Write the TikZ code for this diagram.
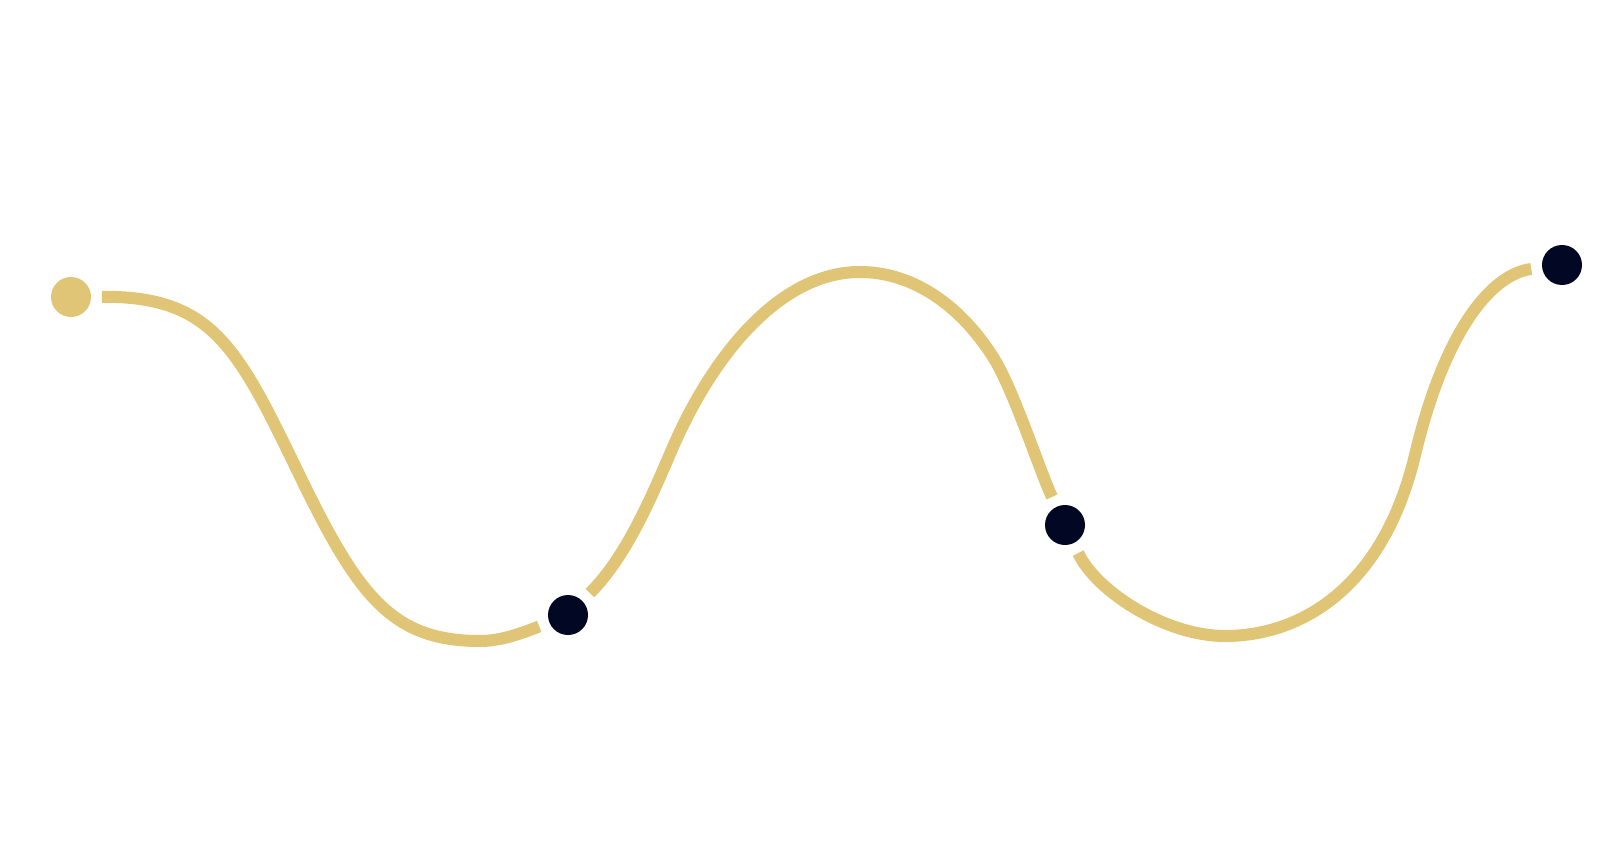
\documentclass[tikz,border=0pt]{standalone}
\definecolor{gold}{RGB}{225,197,118}
\definecolor{navy}{RGB}{2,8,35}
\begin{document}
\begin{tikzpicture}[x=1pt,y=-1pt,
  dotnode/.style={circle, inner sep=0pt, minimum size=40pt, outer sep=11pt, fill=navy},
  golddot/.style={dotnode, fill=gold},
  wave/.style={draw=gold, line width=12pt, line cap=butt}]
\fill[white] (0,0) rectangle (1600,850);
\useasboundingbox (0,0) rectangle (1600,850);
\node[golddot] (d1) at (71,297) {};
\node[dotnode] (d2) at (568,615) {};
\node[dotnode] (d3) at (1065,525) {};
\node[dotnode] (d4) at (1562,265) {};
\coordinate (a1) at (297,470);
\coordinate (a2) at (480,641);
\coordinate (b1) at (673,447);
\coordinate (b2) at (860,272);
\coordinate (b3) at (993,357);
\coordinate (c1) at (1225,636);
\coordinate (c2) at (1415,455);
\draw[wave] (d1) .. controls (211,296) and (237,346) .. (a1)
  .. controls (357,594) and (390,641) .. (a2)
  .. controls (500,641) and (520,634) .. (d2);
\draw[wave] (d2) .. controls (628,555) and (653,493) .. (b1)
  .. controls (713,355) and (780,272) .. (b2)
  .. controls (910,272) and (958,302) .. (b3)
  .. controls (1013,388) and (1039,469) .. (d3);
\draw[wave] (d3) .. controls (1096,591) and (1165,636) .. (c1)
  .. controls (1300,636) and (1383,589) .. (c2)
  .. controls (1445,329) and (1492,274) .. (d4);
\end{tikzpicture}
\end{document}
